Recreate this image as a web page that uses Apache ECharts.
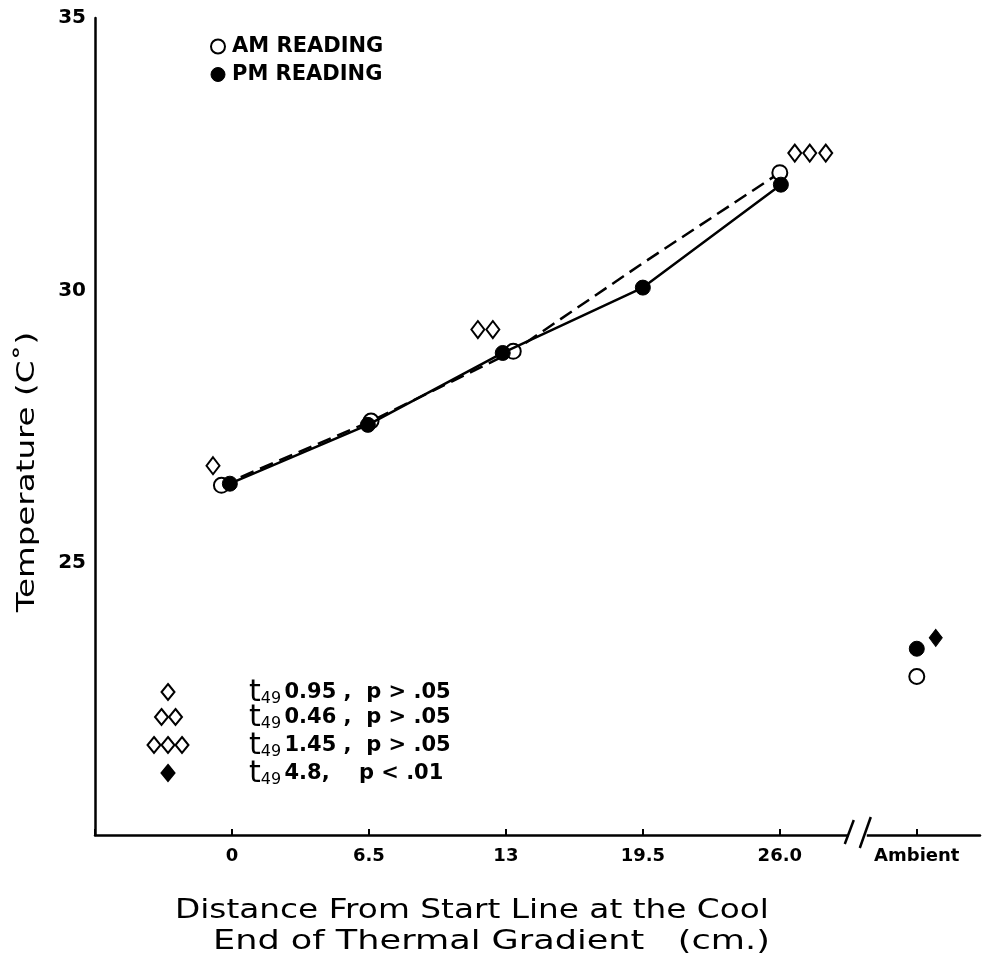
<!DOCTYPE html>
<html>
<head>
<meta charset="utf-8">
<script src="https://cdn.jsdelivr.net/npm/echarts@6/dist/echarts.min.js"></script>
<style>
  html, body { margin: 0; padding: 0; background: #fff; }
  #chart { width: 984px; height: 969px; }
</style>
</head>
<body>
<div id="chart"></div>
<script>
// Distance ticks along the gradient; the last slot holds the ambient readings.
const xTickValues = [0, 6.5, 13, 19.5, 26, 32.5];
const xTickLabels = ['0', '6.5', '13', '19.5', '26.0', 'Ambient'];
const AMBIENT_X = 32.5;
const BREAK_X = 29.7;

// Morning readings (open circles, dashed line)
const amDistance = [-0.5, 6.6, 13.35, 19.5, 26.0];
const amTemp     = [26.42, 27.6, 28.88, 30.5, 32.16];
const amMarked   = [true, true, true, false, true];
const amAmbient  = 22.91;

// Afternoon readings (filled circles, solid line)
const pmDistance = [-0.1, 6.45, 12.85, 19.5, 26.05];
const pmTemp     = [26.45, 27.53, 28.85, 30.05, 31.94];
const pmAmbient  = 23.42;

// Significance markers placed beside the points
const openDiamonds   = [[-0.9, 26.78], [11.67, 29.28], [12.38, 29.28], [26.71, 32.52], [27.42, 32.52], [28.18, 32.52]];
const filledDiamonds = [[33.4, 23.62]];

// Key for the markers: number of diamonds and t-test results
const keyDiamondCounts = [1, 2, 3, 1];
const keyFilled        = [false, false, false, true];
const keyTValues       = ['0.95 ,', '0.46 ,', '1.45 ,', '4.8,'];
const keyPValues       = ['p > .05', 'p > .05', 'p > .05', '  p < .01'];

const FONT = '"DejaVu Sans", "Liberation Sans", sans-serif';

const chart = echarts.init(document.getElementById('chart'), null, { renderer: 'canvas' });

const amLine = amDistance.map((x, i) => ({
  value: [x, amTemp[i]],
  symbol: amMarked[i] ? 'circle' : 'none'
}));
const pmLine = pmDistance.map((x, i) => [x, pmTemp[i]]);

const openCircle = { color: '#fff', borderColor: '#000', borderWidth: 2, opacity: 1 };
const filledCircle = { color: '#000', borderColor: '#000', borderWidth: 1, opacity: 1 };

// key block at the lower left
const keyGraphics = [];
const keyRowY = [692, 717, 745, 773];
keyRowY.forEach((y, r) => {
  const n = keyDiamondCounts[r];
  const w = 13, h = 16;
  const startX = 168 - (n - 1) * w / 2 - (n === 3 ? 1 : 0);
  for (let k = 0; k < n; k++) {
    const cx = startX + k * (w + 1);
    keyGraphics.push({
      type: 'polygon',
      shape: { points: [[cx, y - h / 2], [cx + w / 2, y], [cx, y + h / 2], [cx - w / 2, y]] },
      style: { fill: keyFilled[r] ? '#000' : '#fff', stroke: '#000', lineWidth: 2 }
    });
  }
  keyGraphics.push({
    type: 'text',
    x: 249, y: y + 1,
    style: {
      text: '{t|t}{s|49} {v|' + keyTValues[r] + '  ' + keyPValues[r] + '}',
      verticalAlign: 'middle',
      rich: {
        t: { fontFamily: FONT, fontSize: 30, fill: '#000' },
        s: { fontFamily: FONT, fontSize: 16, fill: '#000', padding: [12, 0, 0, 0] },
        v: { fontFamily: FONT, fontSize: 21, fontWeight: 'bold', fill: '#000' }
      }
    }
  });
});

const titleStyle = { fontFamily: FONT, fontSize: 26, fill: '#000', verticalAlign: 'top' };

const option = {
  backgroundColor: '#fff',
  animation: false,
  grid: { left: 95, top: 18, width: 885, height: 817, containLabel: false },
  legend: {
    left: 205, top: 31, orient: 'vertical', itemGap: 7,
    itemWidth: 14, itemHeight: 14,
    textStyle: { fontFamily: FONT, fontSize: 21, fontWeight: 'bold', color: '#000', padding: [0, 0, 0, 2] },
    data: [
      { name: 'AM READING', icon: 'circle', itemStyle: openCircle },
      { name: 'PM READING', icon: 'circle', itemStyle: filledCircle }
    ]
  },
  xAxis: {
    type: 'value', min: -6.5, max: 35.5, interval: 6.5,
    splitLine: { show: false },
    axisLine: { show: true, onZero: false, lineStyle: { color: '#000', width: 2.5 } },
    axisTick: { show: true, inside: true, length: 6, lineStyle: { color: '#000', width: 2 } },
    axisLabel: {
      showMaxLabel: false, margin: 12,
      fontFamily: FONT, fontSize: 18, fontWeight: 'bold', color: '#000',
      formatter: v => {
        const i = xTickValues.findIndex(t => Math.abs(t - v) < 1e-6);
        return i >= 0 ? xTickLabels[i] : '';
      }
    }
  },
  yAxis: {
    type: 'value', min: 20, max: 35, interval: 5,
    splitLine: { show: false },
    axisLine: { show: true, onZero: false, lineStyle: { color: '#000', width: 2.5 } },
    axisTick: { show: false },
    axisLabel: {
      showMinLabel: false, margin: 9,
      fontFamily: FONT, fontSize: 20, fontWeight: 'bold', color: '#000'
    }
  },
  graphic: [
    {
      type: 'text', x: 27, y: 472, rotation: Math.PI / 2, scaleX: 1.3,
      style: {
        text: 'Temperature (C˚)', align: 'center', verticalAlign: 'middle',
        fontFamily: FONT, fontSize: 25, fill: '#000'
      }
    },
    {
      type: 'text', x: 175, y: 898, scaleX: 1.26,
      style: Object.assign({ text: 'Distance From Start Line at the Cool', align: 'left' }, titleStyle)
    },
    {
      type: 'text', x: 213, y: 929, scaleX: 1.35,
      style: Object.assign({ text: 'End of Thermal Gradient   (cm.)', align: 'left' }, titleStyle)
    }
  ].concat(keyGraphics),
  series: [
    {
      name: 'AM READING', type: 'line', data: amLine,
      symbolSize: 15, itemStyle: openCircle, z: 3,
      lineStyle: { color: '#000', width: 2.5, type: [14, 7] }
    },
    {
      name: 'PM READING', type: 'line', data: pmLine,
      symbol: 'circle', symbolSize: 15, itemStyle: filledCircle, z: 4,
      lineStyle: { color: '#000', width: 2.5 }
    },
    {
      name: 'AM READING', type: 'scatter', data: [[AMBIENT_X, amAmbient]],
      symbol: 'circle', symbolSize: 15, itemStyle: openCircle
    },
    {
      name: 'PM READING', type: 'scatter', data: [[AMBIENT_X, pmAmbient]],
      symbol: 'circle', symbolSize: 15, itemStyle: filledCircle
    },
    {
      name: 'sig-open', type: 'scatter', data: openDiamonds,
      symbol: 'diamond', symbolSize: [13, 17],
      itemStyle: { color: '#fff', borderColor: '#000', borderWidth: 2, opacity: 1 }
    },
    {
      name: 'sig-filled', type: 'scatter', data: filledDiamonds,
      symbol: 'diamond', symbolSize: [13, 17],
      itemStyle: { color: '#000', borderColor: '#000', borderWidth: 1, opacity: 1 }
    },
    {
      // axis break between the gradient and the ambient reading
      name: 'axis-break', type: 'custom', clip: false, silent: true, z: 10,
      data: [[BREAK_X, 20]],
      renderItem: (params, api) => {
        const p = api.coord([api.value(0), api.value(1)]);
        return {
          type: 'group',
          children: [
            { type: 'rect', shape: { x: p[0] - 9, y: p[1] - 4, width: 18, height: 8 }, style: { fill: '#fff' } },
            { type: 'line', shape: { x1: p[0] - 13, y1: p[1] + 9, x2: p[0] - 4, y2: p[1] - 15 }, style: { stroke: '#000', lineWidth: 2.5 } },
            { type: 'line', shape: { x1: p[0] + 2, y1: p[1] + 13, x2: p[0] + 13, y2: p[1] - 18 }, style: { stroke: '#000', lineWidth: 2.5 } }
          ]
        };
      }
    }
  ]
};

chart.setOption(option);
</script>
</body>
</html>
